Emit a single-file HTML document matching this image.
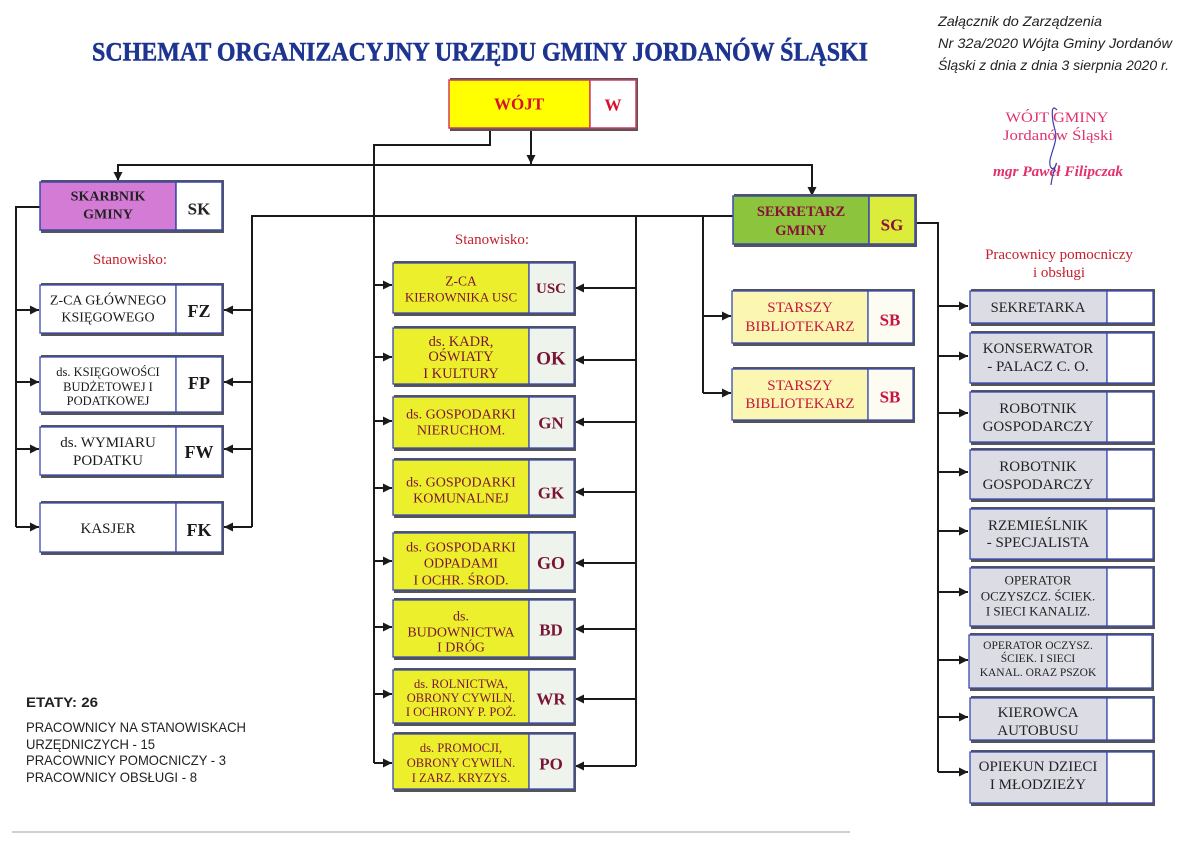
<!DOCTYPE html>
<html><head><meta charset="utf-8"><style>
html,body{margin:0;padding:0;background:#fff;}
svg{display:block;}
text{font-family:"Liberation Serif",serif;}
.s{font-family:"Liberation Sans",sans-serif;}
</style></head><body>
<svg width="1200" height="849" viewBox="0 0 1200 849" xmlns="http://www.w3.org/2000/svg">
<defs>
<marker id="a" viewBox="0 0 10 10" refX="10" refY="5" markerWidth="10" markerHeight="9" markerUnits="userSpaceOnUse" orient="auto">
<path d="M0,0 L10,5 L0,10 z" fill="#1a1a1a"/>
</marker>
</defs>

<!-- Title -->
<text x="480" y="52" text-anchor="middle" dominant-baseline="central" font-size="26" font-weight="bold" fill="#1d3591" stroke="#1d3591" stroke-width="0.5" textLength="776" lengthAdjust="spacingAndGlyphs">SCHEMAT ORGANIZACYJNY URZĘDU GMINY JORDANÓW ŚLĄSKI</text>

<!-- Annotation -->
<g class="s" font-style="italic" font-size="14" fill="#222">
<text class="s" x="938" y="21" dominant-baseline="central" textLength="164" lengthAdjust="spacingAndGlyphs">Załącznik  do Zarządzenia</text>
<text class="s" x="938" y="43" dominant-baseline="central" textLength="234" lengthAdjust="spacingAndGlyphs">Nr 32a/2020  Wójta Gminy Jordanów</text>
<text class="s" x="938" y="65" dominant-baseline="central" textLength="231" lengthAdjust="spacingAndGlyphs">Śląski z dnia z dnia 3 sierpnia 2020 r.</text>
</g>

<!-- Stamp -->
<g fill="#e0336d" text-anchor="middle">
<text x="1057" y="118" dominant-baseline="central" font-size="14.5" textLength="103" lengthAdjust="spacingAndGlyphs">WÓJT GMINY</text>
<text x="1058" y="136" dominant-baseline="central" font-size="14.5" textLength="110" lengthAdjust="spacingAndGlyphs">Jordanów Śląski</text>
<text x="1058" y="172" dominant-baseline="central" font-size="14.5" font-style="italic" font-weight="bold" textLength="130" lengthAdjust="spacingAndGlyphs">mgr Paweł Filipczak</text>
</g>
<path d="M1057,110 C1050,102 1052,120 1055,130 C1058,140 1052,150 1050,160 C1049,168 1053,172 1056,165 C1058,158 1052,175 1051,185" fill="none" stroke="#3a3fb0" stroke-width="1.2"/>

<!-- Connectors -->
<g stroke="#1a1a1a" stroke-width="2" fill="none">
<polyline points="490,128 490,145 374,145 374,763"/>
<line x1="531" y1="128" x2="531" y2="164" marker-end="url(#a)"/>
<line x1="117" y1="165" x2="813" y2="165"/>
<line x1="118" y1="165" x2="118" y2="181" marker-end="url(#a)"/>
<line x1="812" y1="165" x2="812" y2="196" marker-end="url(#a)"/>
<polyline points="40,207 16,207 16,527"/>
<polyline points="252,527 252,216 733,216"/>
<line x1="636" y1="216" x2="636" y2="766"/>
<line x1="703" y1="216" x2="703" y2="393"/>
<polyline points="915,223 938,223 938,772"/>

<line x1="16" y1="310" x2="39" y2="310" marker-end="url(#a)"/>
<line x1="16" y1="382" x2="39" y2="382" marker-end="url(#a)"/>
<line x1="16" y1="449" x2="39" y2="449" marker-end="url(#a)"/>
<line x1="16" y1="527" x2="39" y2="527" marker-end="url(#a)"/>
<line x1="252" y1="310" x2="224" y2="310" marker-end="url(#a)"/>
<line x1="252" y1="382" x2="224" y2="382" marker-end="url(#a)"/>
<line x1="252" y1="449" x2="224" y2="449" marker-end="url(#a)"/>
<line x1="252" y1="527" x2="224" y2="527" marker-end="url(#a)"/>

<line x1="374" y1="285" x2="392" y2="285" marker-end="url(#a)"/>
<line x1="374" y1="357" x2="392" y2="357" marker-end="url(#a)"/>
<line x1="374" y1="421" x2="392" y2="421" marker-end="url(#a)"/>
<line x1="374" y1="488" x2="392" y2="488" marker-end="url(#a)"/>
<line x1="374" y1="561" x2="392" y2="561" marker-end="url(#a)"/>
<line x1="374" y1="627" x2="392" y2="627" marker-end="url(#a)"/>
<line x1="374" y1="694" x2="392" y2="694" marker-end="url(#a)"/>
<line x1="374" y1="763" x2="392" y2="763" marker-end="url(#a)"/>
<line x1="636" y1="288" x2="575" y2="288" marker-end="url(#a)"/>
<line x1="636" y1="360" x2="575" y2="360" marker-end="url(#a)"/>
<line x1="636" y1="422" x2="575" y2="422" marker-end="url(#a)"/>
<line x1="636" y1="492" x2="575" y2="492" marker-end="url(#a)"/>
<line x1="636" y1="563" x2="575" y2="563" marker-end="url(#a)"/>
<line x1="636" y1="629" x2="575" y2="629" marker-end="url(#a)"/>
<line x1="636" y1="699" x2="575" y2="699" marker-end="url(#a)"/>
<line x1="636" y1="766" x2="575" y2="766" marker-end="url(#a)"/>

<line x1="703" y1="316" x2="731" y2="316" marker-end="url(#a)"/>
<line x1="703" y1="393" x2="731" y2="393" marker-end="url(#a)"/>

<line x1="938" y1="306" x2="968" y2="306" marker-end="url(#a)"/>
<line x1="938" y1="356" x2="968" y2="356" marker-end="url(#a)"/>
<line x1="938" y1="413" x2="968" y2="413" marker-end="url(#a)"/>
<line x1="938" y1="472" x2="968" y2="472" marker-end="url(#a)"/>
<line x1="938" y1="531" x2="968" y2="531" marker-end="url(#a)"/>
<line x1="938" y1="592" x2="968" y2="592" marker-end="url(#a)"/>
<line x1="938" y1="660" x2="968" y2="660" marker-end="url(#a)"/>
<line x1="938" y1="717" x2="968" y2="717" marker-end="url(#a)"/>
<line x1="938" y1="772" x2="968" y2="772" marker-end="url(#a)"/>
</g>

<!-- WÓJT -->
<rect x="450" y="78" width="188" height="53" fill="#555"/>
<rect x="449" y="80" width="141" height="48" fill="#ffff00" stroke="#d23b5c" stroke-width="1.5"/>
<rect x="590" y="80" width="46" height="48" fill="#fff" stroke="#d23b5c" stroke-width="1.5"/>
<text x="519" y="104" text-anchor="middle" dominant-baseline="central" font-size="17" font-weight="bold" fill="#d8102c">WÓJT</text>
<text x="613" y="105" text-anchor="middle" dominant-baseline="central" font-size="17" font-weight="bold" fill="#d8102c">W</text>

<!-- SKARBNIK -->
<rect x="41" y="180" width="183" height="53" fill="#555"/>
<rect x="40" y="182" width="136" height="48" fill="#d47bd6" stroke="#3a48b0" stroke-width="1.5"/>
<rect x="176" y="182" width="46" height="48" fill="#fff" stroke="#3a48b0" stroke-width="1.5"/>
<g font-size="14" font-weight="bold" fill="#222" text-anchor="middle">
<text x="108" y="197" dominant-baseline="central">SKARBNIK</text>
<text x="108" y="215" dominant-baseline="central">GMINY</text>
<text x="199" y="209" dominant-baseline="central" font-size="17">SK</text>
</g>

<!-- SEKRETARZ -->
<rect x="734" y="194" width="183" height="53" fill="#555"/>
<rect x="733" y="196" width="136" height="48" fill="#8dc43d" stroke="#3a48b0" stroke-width="1.5"/>
<rect x="869" y="196" width="46" height="48" fill="#dcec3a" stroke="#3a48b0" stroke-width="1.5"/>
<g font-size="14.5" font-weight="bold" fill="#8a1038" text-anchor="middle">
<text x="801" y="212" dominant-baseline="central">SEKRETARZ</text>
<text x="801" y="231" dominant-baseline="central">GMINY</text>
<text x="892" y="225" dominant-baseline="central" font-size="17">SG</text>
</g>

<!-- Labels -->
<g fill="#c4202e" font-size="15" text-anchor="middle">
<text x="130" y="260" dominant-baseline="central">Stanowisko:</text>
<text x="492" y="240" dominant-baseline="central">Stanowisko:</text>
<text x="1059" y="255" dominant-baseline="central">Pracownicy pomocniczy</text>
<text x="1059" y="273" dominant-baseline="central">i obsługi</text>
</g>

<!-- Left column boxes -->
<g stroke="#3a48b0" stroke-width="1.3">
<rect x="41" y="283" width="183" height="53" fill="#555" stroke="none"/>
<rect x="40" y="285" width="136" height="48" fill="#fff"/><rect x="176" y="285" width="46" height="48" fill="#fff"/>
<rect x="41" y="355" width="183" height="60" fill="#555" stroke="none"/>
<rect x="40" y="357" width="136" height="55" fill="#fff"/><rect x="176" y="357" width="46" height="55" fill="#fff"/>
<rect x="41" y="425" width="183" height="53" fill="#555" stroke="none"/>
<rect x="40" y="427" width="136" height="48" fill="#fff"/><rect x="176" y="427" width="46" height="48" fill="#fff"/>
<rect x="41" y="501" width="183" height="54" fill="#555" stroke="none"/>
<rect x="40" y="503" width="136" height="49" fill="#fff"/><rect x="176" y="503" width="46" height="49" fill="#fff"/>
</g>
<g fill="#1a1a1a" text-anchor="middle">
<text x="108" y="301" dominant-baseline="central" font-size="14">Z-CA GŁÓWNEGO</text>
<text x="108" y="318" dominant-baseline="central" font-size="14">KSIĘGOWEGO</text>
<text x="108" y="372" dominant-baseline="central" font-size="12.5">ds. KSIĘGOWOŚCI</text>
<text x="108" y="387" dominant-baseline="central" font-size="12.5">BUDŻETOWEJ I</text>
<text x="108" y="401" dominant-baseline="central" font-size="12.5">PODATKOWEJ</text>
<text x="108" y="443" dominant-baseline="central" font-size="15">ds. WYMIARU</text>
<text x="108" y="461" dominant-baseline="central" font-size="15">PODATKU</text>
<text x="108" y="529" dominant-baseline="central" font-size="15">KASJER</text>
<g font-weight="bold" font-size="18">
<text x="199" y="311" dominant-baseline="central">FZ</text>
<text x="199" y="383" dominant-baseline="central">FP</text>
<text x="199" y="452" dominant-baseline="central">FW</text>
<text x="199" y="530" dominant-baseline="central">FK</text>
</g>
</g>

<!-- Middle column boxes -->
<g stroke="#3a48b0" stroke-width="1.3">
<rect x="394" y="261" width="182" height="55" fill="#555" stroke="none"/>
<rect x="393" y="263" width="136" height="50" fill="#ecf02c"/><rect x="529" y="263" width="45" height="50" fill="#eef4ec"/>
<rect x="394" y="326" width="182" height="61" fill="#555" stroke="none"/>
<rect x="393" y="328" width="136" height="56" fill="#ecf02c"/><rect x="529" y="328" width="45" height="56" fill="#eef4ec"/>
<rect x="394" y="395" width="182" height="56" fill="#555" stroke="none"/>
<rect x="393" y="397" width="136" height="51" fill="#ecf02c"/><rect x="529" y="397" width="45" height="51" fill="#eef4ec"/>
<rect x="394" y="458" width="182" height="60" fill="#555" stroke="none"/>
<rect x="393" y="460" width="136" height="55" fill="#ecf02c"/><rect x="529" y="460" width="45" height="55" fill="#eef4ec"/>
<rect x="394" y="531" width="182" height="62" fill="#555" stroke="none"/>
<rect x="393" y="533" width="136" height="57" fill="#ecf02c"/><rect x="529" y="533" width="45" height="57" fill="#eef4ec"/>
<rect x="394" y="598" width="182" height="62" fill="#555" stroke="none"/>
<rect x="393" y="600" width="136" height="57" fill="#ecf02c"/><rect x="529" y="600" width="45" height="57" fill="#eef4ec"/>
<rect x="394" y="668" width="182" height="58" fill="#555" stroke="none"/>
<rect x="393" y="670" width="136" height="53" fill="#ecf02c"/><rect x="529" y="670" width="45" height="53" fill="#eef4ec"/>
<rect x="394" y="732" width="182" height="60" fill="#555" stroke="none"/>
<rect x="393" y="734" width="136" height="55" fill="#ecf02c"/><rect x="529" y="734" width="45" height="55" fill="#eef4ec"/>
</g>
<g fill="#7a1436" text-anchor="middle">
<text x="461" y="281" dominant-baseline="central" font-size="13.5">Z-CA</text>
<text x="461" y="297" dominant-baseline="central" font-size="13">KIEROWNIKA  USC</text>
<text x="461" y="342" dominant-baseline="central" font-size="14.5">ds. KADR,</text>
<text x="461" y="357" dominant-baseline="central" font-size="14.5">OŚWIATY</text>
<text x="461" y="374" dominant-baseline="central" font-size="14.5">I KULTURY</text>
<text x="461" y="415" dominant-baseline="central" font-size="14">ds. GOSPODARKI</text>
<text x="461" y="431" dominant-baseline="central" font-size="14">NIERUCHOM.</text>
<text x="461" y="483" dominant-baseline="central" font-size="14">ds. GOSPODARKI</text>
<text x="461" y="499" dominant-baseline="central" font-size="14">KOMUNALNEJ</text>
<text x="461" y="548" dominant-baseline="central" font-size="14">ds.  GOSPODARKI</text>
<text x="461" y="564" dominant-baseline="central" font-size="14">ODPADAMI</text>
<text x="461" y="581" dominant-baseline="central" font-size="14">I OCHR. ŚROD.</text>
<text x="461" y="617" dominant-baseline="central" font-size="14">ds.</text>
<text x="461" y="633" dominant-baseline="central" font-size="14">BUDOWNICTWA</text>
<text x="461" y="648" dominant-baseline="central" font-size="14">I DRÓG</text>
<text x="461" y="684" dominant-baseline="central" font-size="12.5">ds. ROLNICTWA,</text>
<text x="461" y="698" dominant-baseline="central" font-size="12.5">OBRONY CYWILN.</text>
<text x="461" y="712" dominant-baseline="central" font-size="12.5">I OCHRONY P. POŻ.</text>
<text x="461" y="748" dominant-baseline="central" font-size="12.5">ds. PROMOCJI,</text>
<text x="461" y="763" dominant-baseline="central" font-size="12.5">OBRONY CYWILN.</text>
<text x="461" y="778" dominant-baseline="central" font-size="12.5">I ZARZ. KRYZYS.</text>
<g font-weight="bold">
<text x="551" y="289" dominant-baseline="central" font-size="15">USC</text>
<text x="551" y="359" dominant-baseline="central" font-size="19">OK</text>
<text x="551" y="423" dominant-baseline="central" font-size="17">GN</text>
<text x="551" y="493" dominant-baseline="central" font-size="17">GK</text>
<text x="551" y="563" dominant-baseline="central" font-size="18">GO</text>
<text x="551" y="630" dominant-baseline="central" font-size="17">BD</text>
<text x="551" y="699" dominant-baseline="central" font-size="17">WR</text>
<text x="551" y="764" dominant-baseline="central" font-size="17">PO</text>
</g>
</g>

<!-- Bibliotekarz boxes -->
<g stroke="#3a48b0" stroke-width="1.3">
<rect x="733" y="289" width="182" height="57" fill="#555" stroke="none"/>
<rect x="732" y="291" width="136" height="52" fill="#fbf7b2"/><rect x="868" y="291" width="45" height="52" fill="#fdfcf2"/>
<rect x="733" y="367" width="182" height="56" fill="#555" stroke="none"/>
<rect x="732" y="369" width="136" height="51" fill="#fbf7b2"/><rect x="868" y="369" width="45" height="51" fill="#fdfcf2"/>
</g>
<g fill="#c8143c" text-anchor="middle" font-size="15">
<text x="800" y="308" dominant-baseline="central">STARSZY</text>
<text x="800" y="327" dominant-baseline="central">BIBLIOTEKARZ</text>
<text x="890" y="320" dominant-baseline="central" font-weight="bold" font-size="17">SB</text>
<text x="800" y="386" dominant-baseline="central">STARSZY</text>
<text x="800" y="404" dominant-baseline="central">BIBLIOTEKARZ</text>
<text x="890" y="397" dominant-baseline="central" font-weight="bold" font-size="17">SB</text>
</g>

<!-- Right column boxes -->
<g stroke="#3a48b0" stroke-width="1.3">
<rect x="971" y="289" width="184" height="37" fill="#555" stroke="none"/>
<rect x="970" y="291" width="137" height="32" fill="#dcdce5"/><rect x="1107" y="291" width="46" height="32" fill="#fff"/>
<rect x="971" y="331" width="184" height="55" fill="#555" stroke="none"/>
<rect x="970" y="333" width="137" height="50" fill="#dcdce5"/><rect x="1107" y="333" width="46" height="50" fill="#fff"/>
<rect x="971" y="390" width="184" height="55" fill="#555" stroke="none"/>
<rect x="970" y="392" width="137" height="50" fill="#dcdce5"/><rect x="1107" y="392" width="46" height="50" fill="#fff"/>
<rect x="971" y="448" width="184" height="54" fill="#555" stroke="none"/>
<rect x="970" y="450" width="137" height="49" fill="#dcdce5"/><rect x="1107" y="450" width="46" height="49" fill="#fff"/>
<rect x="971" y="507" width="184" height="55" fill="#555" stroke="none"/>
<rect x="970" y="509" width="137" height="50" fill="#dcdce5"/><rect x="1107" y="509" width="46" height="50" fill="#fff"/>
<rect x="971" y="566" width="184" height="63" fill="#555" stroke="none"/>
<rect x="970" y="568" width="137" height="58" fill="#dcdce5"/><rect x="1107" y="568" width="46" height="58" fill="#fff"/>
<rect x="970" y="633" width="184" height="58" fill="#555" stroke="none"/>
<rect x="969" y="635" width="138" height="53" fill="#dcdce5"/><rect x="1107" y="635" width="45" height="53" fill="#fff"/>
<rect x="971" y="696" width="184" height="47" fill="#555" stroke="none"/>
<rect x="970" y="698" width="137" height="42" fill="#dcdce5"/><rect x="1107" y="698" width="46" height="42" fill="#fff"/>
<rect x="971" y="750" width="184" height="56" fill="#555" stroke="none"/>
<rect x="970" y="752" width="137" height="51" fill="#dcdce5"/><rect x="1107" y="752" width="46" height="51" fill="#fff"/>
</g>
<g fill="#222" text-anchor="middle">
<text x="1038" y="308" dominant-baseline="central" font-size="14.5">SEKRETARKA</text>
<text x="1038" y="349" dominant-baseline="central" font-size="15">KONSERWATOR</text>
<text x="1038" y="367" dominant-baseline="central" font-size="15">- PALACZ C. O.</text>
<text x="1038" y="409" dominant-baseline="central" font-size="15">ROBOTNIK</text>
<text x="1038" y="427" dominant-baseline="central" font-size="15">GOSPODARCZY</text>
<text x="1038" y="467" dominant-baseline="central" font-size="15">ROBOTNIK</text>
<text x="1038" y="485" dominant-baseline="central" font-size="15">GOSPODARCZY</text>
<text x="1038" y="526" dominant-baseline="central" font-size="15">RZEMIEŚLNIK</text>
<text x="1038" y="543" dominant-baseline="central" font-size="15">- SPECJALISTA</text>
<text x="1038" y="580" dominant-baseline="central" font-size="13">OPERATOR</text>
<text x="1038" y="596" dominant-baseline="central" font-size="13">OCZYSZCZ. ŚCIEK.</text>
<text x="1038" y="611" dominant-baseline="central" font-size="13">I SIECI KANALIZ.</text>
<text x="1038" y="646" dominant-baseline="central" font-size="11.5">OPERATOR OCZYSZ.</text>
<text x="1038" y="659" dominant-baseline="central" font-size="11.5">ŚCIEK. I SIECI</text>
<text x="1038" y="673" dominant-baseline="central" font-size="11.5">KANAL. ORAZ PSZOK</text>
<text x="1038" y="713" dominant-baseline="central" font-size="15">KIEROWCA</text>
<text x="1038" y="731" dominant-baseline="central" font-size="15">AUTOBUSU</text>
<text x="1038" y="767" dominant-baseline="central" font-size="15">OPIEKUN DZIECI</text>
<text x="1038" y="785" dominant-baseline="central" font-size="15">I MŁODZIEŻY</text>
</g>

<!-- Bottom-left summary -->
<g fill="#222">
<text class="s" x="26" y="702" dominant-baseline="central" font-size="14" font-weight="bold" textLength="72" lengthAdjust="spacingAndGlyphs">ETATY: 26</text>
<text class="s" x="26" y="727" dominant-baseline="central" font-size="14" textLength="220" lengthAdjust="spacingAndGlyphs">PRACOWNICY NA STANOWISKACH</text>
<text class="s" x="26" y="744" dominant-baseline="central" font-size="14" textLength="129" lengthAdjust="spacingAndGlyphs">URZĘDNICZYCH - 15</text>
<text class="s" x="26" y="760" dominant-baseline="central" font-size="14" textLength="200" lengthAdjust="spacingAndGlyphs">PRACOWNICY POMOCNICZY - 3</text>
<text class="s" x="26" y="777" dominant-baseline="central" font-size="14" textLength="171" lengthAdjust="spacingAndGlyphs">PRACOWNICY OBSŁUGI - 8</text>
</g>
<line x1="12" y1="832" x2="850" y2="832" stroke="#cfcfcf" stroke-width="2"/>
</svg>
</body></html>
